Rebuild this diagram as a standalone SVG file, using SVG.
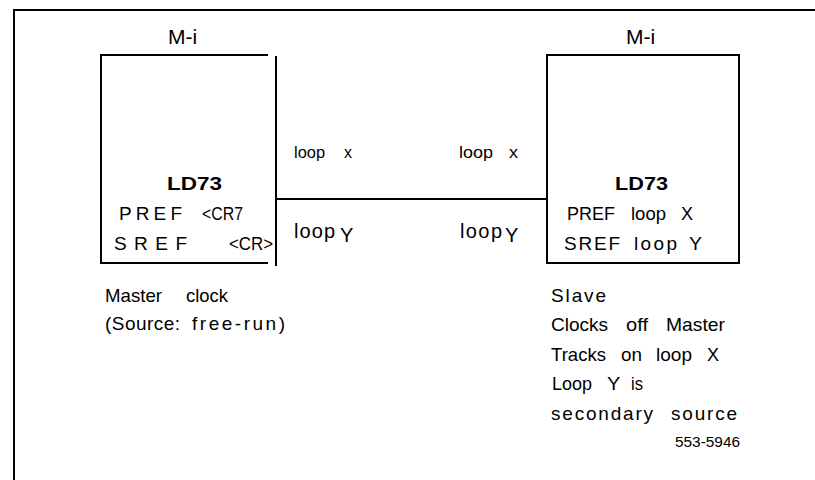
<svg xmlns="http://www.w3.org/2000/svg" width="815" height="480" viewBox="0 0 815 480">
  <style>
    .ln { stroke: #000; fill: none; stroke-width: 2; }
    text { font-family: "Liberation Sans", Arial, sans-serif; fill: #000; font-size: 19px; }
    .sm { font-size: 17px; }
    .big { font-size: 20px; }
    .head { font-size: 21px; }
    .bold { font-weight: bold; }
    .num { font-size: 14px; }
  </style>
  <rect width="815" height="480" fill="#fff"/>

  <!-- page frame -->
  <g id="frame">
    <line class="ln" x1="13" y1="10" x2="815" y2="10"/>
    <line class="ln" x1="13" y1="10" x2="177" y2="10" stroke-width="3.5"/>
    <line class="ln" x1="14" y1="10" x2="14" y2="480"/>
  </g>

  <!-- master node: free-running clock source -->
  <g id="master">
    <text class="head" x="168" y="44">M-i</text>
    <polyline class="ln" points="268,55 101,55 101,263 268,263"/>
    <line class="ln" x1="276" y1="56" x2="276" y2="266"/>
    <text class="bold" x="167" y="190" textLength="55" lengthAdjust="spacingAndGlyphs">LD73</text>
    <text y="220"><tspan x="119" textLength="63">PREF</tspan> <tspan x="202" textLength="41" lengthAdjust="spacingAndGlyphs">&lt;CR7</tspan></text>
    <text y="250"><tspan x="114" textLength="73">SREF</tspan> <tspan x="229" textLength="44" lengthAdjust="spacingAndGlyphs">&lt;CR&gt;</tspan></text>
    <text y="302"><tspan x="105" textLength="57" lengthAdjust="spacingAndGlyphs">Master</tspan> <tspan x="186" textLength="42" lengthAdjust="spacingAndGlyphs">clock</tspan></text>
    <text y="330"><tspan x="105" textLength="75">(Source:</tspan> <tspan x="192" textLength="93">free-run)</tspan></text>
  </g>

  <!-- slave node: tracks the master over loop X -->
  <g id="slave">
    <text class="head" x="626" y="44">M-i</text>
    <rect class="ln" x="547" y="55" width="192" height="208"/>
    <text class="bold" x="615" y="190" textLength="53" lengthAdjust="spacingAndGlyphs">LD73</text>
    <text y="220"><tspan x="567" textLength="48" lengthAdjust="spacingAndGlyphs">PREF</tspan> <tspan x="631" textLength="35" lengthAdjust="spacingAndGlyphs">loop</tspan> <tspan x="681" textLength="12" lengthAdjust="spacingAndGlyphs">X</tspan></text>
    <text y="250"><tspan x="564" textLength="56">SREF</tspan> <tspan x="634" textLength="43">loop</tspan> <tspan x="689" textLength="13" lengthAdjust="spacingAndGlyphs">Y</tspan></text>
    <text y="302" x="551" textLength="55">Slave</text>
    <text y="331"><tspan x="551" textLength="57" lengthAdjust="spacingAndGlyphs">Clocks</tspan> <tspan x="626" textLength="22" lengthAdjust="spacingAndGlyphs">off</tspan> <tspan x="666" textLength="59" lengthAdjust="spacingAndGlyphs">Master</tspan></text>
    <text y="361"><tspan x="551" textLength="55" lengthAdjust="spacingAndGlyphs">Tracks</tspan> <tspan x="621" textLength="21" lengthAdjust="spacingAndGlyphs">on</tspan> <tspan x="656" textLength="36" lengthAdjust="spacingAndGlyphs">loop</tspan> <tspan x="707" textLength="12" lengthAdjust="spacingAndGlyphs">X</tspan></text>
    <text y="390"><tspan x="552" textLength="40" lengthAdjust="spacingAndGlyphs">Loop</tspan> <tspan x="607" textLength="13" lengthAdjust="spacingAndGlyphs">Y</tspan> <tspan x="631" textLength="12" lengthAdjust="spacingAndGlyphs">is</tspan></text>
    <text y="420"><tspan x="551" textLength="102">secondary</tspan> <tspan x="671" textLength="66">source</tspan></text>
  </g>

  <!-- loop X / loop Y link between the two nodes -->
  <g id="connectors">
    <line class="ln" x1="276" y1="199" x2="547" y2="199"/>
    <text class="sm" y="158"><tspan x="294" textLength="31" lengthAdjust="spacingAndGlyphs">loop</tspan> <tspan x="344" textLength="8" lengthAdjust="spacingAndGlyphs">x</tspan></text>
    <text class="sm" y="158"><tspan x="459" textLength="34" lengthAdjust="spacingAndGlyphs">loop</tspan> <tspan x="509" textLength="9" lengthAdjust="spacingAndGlyphs">x</tspan></text>
    <text class="big" y="238"><tspan x="294" textLength="41">loop</tspan><tspan x="340" dy="4">Y</tspan></text>
    <text class="big" y="238"><tspan x="460" textLength="42">loop</tspan><tspan x="505" dy="4">Y</tspan></text>
  </g>

  <text class="num" x="675" y="447" textLength="65" lengthAdjust="spacingAndGlyphs">553-5946</text>
</svg>
